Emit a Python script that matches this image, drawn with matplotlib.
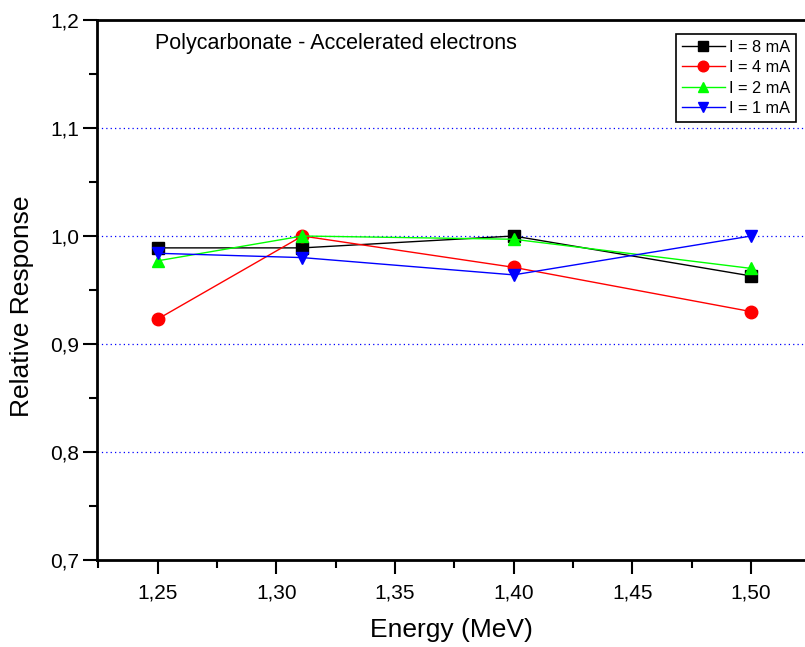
import matplotlib
matplotlib.use('Agg')
import matplotlib.pyplot as plt
from matplotlib.ticker import MultipleLocator, FuncFormatter

plt.rcParams['font.family'] = ['Liberation Sans', 'DejaVu Sans']

# data
energy = [1.25, 1.311, 1.40, 1.50]
resp_8mA = [0.989, 0.989, 1.000, 0.963]
resp_4mA = [0.923, 1.000, 0.971, 0.930]
resp_2mA = [0.977, 1.000, 0.997, 0.970]
resp_1mA = [0.984, 0.980, 0.964, 1.000]
labels = ['I = 8 mA', 'I = 4 mA', 'I = 2 mA', 'I = 1 mA']

fig = plt.figure(figsize=(8.05, 6.47), dpi=100)
ax = fig.add_axes([97/805, 1 - 560/647, 1 - 97/805, (560 - 20)/647])

# grid lines at the inner major y ticks
for g in [0.8, 0.9, 1.0, 1.1]:
    ax.axhline(g, color='blue', lw=0.9, ls=(0, (1, 2.5)), zorder=0)

ax.plot(energy, resp_8mA, color='black', lw=1, marker='s', ms=8, label=labels[0])
ax.plot(energy, resp_4mA, color='red', lw=1, marker='o', ms=9, label=labels[1])
ax.plot(energy, resp_2mA, color='#00ff00', lw=1, marker='^', ms=9, label=labels[2])
ax.plot(energy, resp_1mA, color='blue', lw=1, marker='v', ms=9, label=labels[3])

ax.set_xlim(1.2245, 1.5227)
ax.set_ylim(0.7, 1.2)

ax.xaxis.set_major_locator(MultipleLocator(0.05))
ax.xaxis.set_minor_locator(MultipleLocator(0.025))
ax.yaxis.set_major_locator(MultipleLocator(0.1))
ax.yaxis.set_minor_locator(MultipleLocator(0.05))

comma = lambda fmt: FuncFormatter(lambda v, p: (fmt % v).replace('.', ','))
ax.xaxis.set_major_formatter(comma('%.2f'))
ax.yaxis.set_major_formatter(comma('%.1f'))

ax.tick_params(which='major', direction='out', length=10, width=1.5, labelsize=15)
ax.tick_params(which='minor', direction='out', length=6, width=1.5)
ax.tick_params(axis='x', pad=7)
ax.tick_params(axis='y', pad=3)

for s in ['left', 'bottom', 'top']:
    ax.spines[s].set_linewidth(2)
ax.spines['right'].set_visible(False)

ax.set_xlabel('Energy (MeV)', fontsize=19, labelpad=11)
ax.set_ylabel('Relative Response', fontsize=19)
ax.yaxis.set_label_coords(-0.089, 0.47)

ax.text(0.082, 0.976, 'Polycarbonate - Accelerated electrons', transform=ax.transAxes,
        fontsize=15.5, va='top', ha='left')

leg = ax.legend(loc='upper right', bbox_to_anchor=(0.9915, 0.98), fontsize=11.8,
                frameon=True, fancybox=False, edgecolor='black', framealpha=1,
                borderpad=0.35, labelspacing=0.33, handlelength=2.6, handletextpad=0.25,
                borderaxespad=0.2, markerscale=0.85)
leg.get_frame().set_linewidth(1.2)

fig.savefig('out.png', dpi=100)
